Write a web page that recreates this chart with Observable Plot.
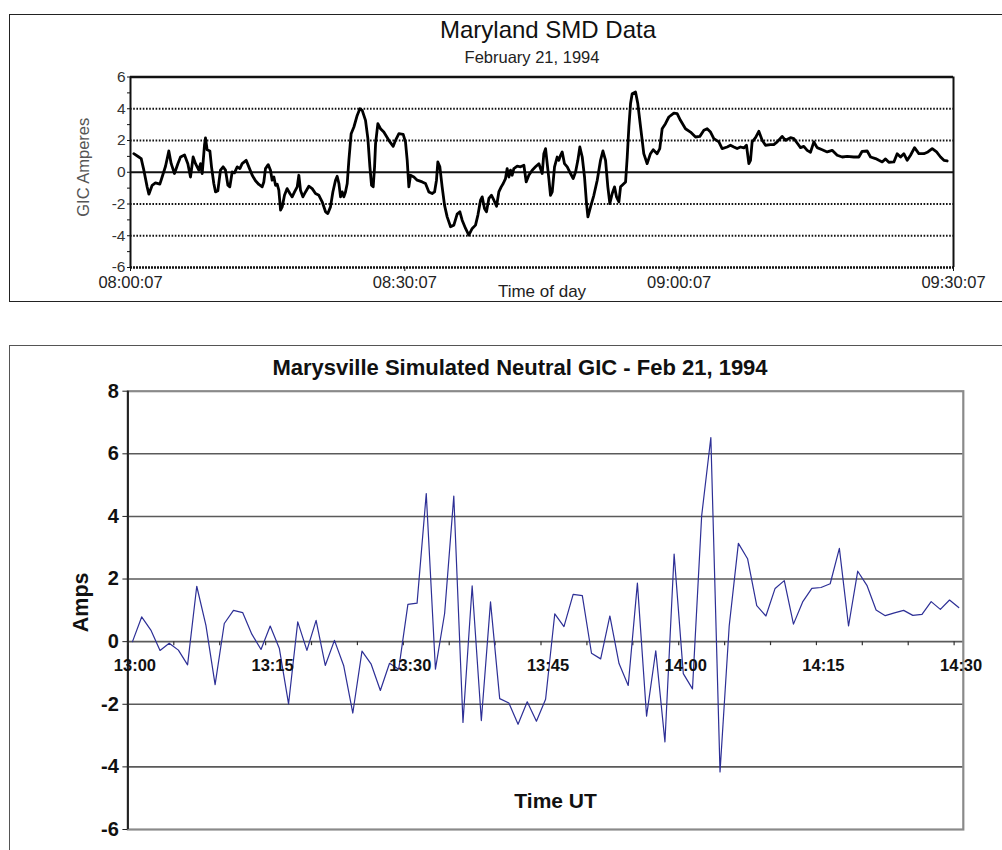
<!DOCTYPE html>
<html><head><meta charset="utf-8">
<script src="https://cdn.jsdelivr.net/npm/d3@7"></script>
<script src="https://cdn.jsdelivr.net/npm/@observablehq/plot@0.6"></script>
<style>
body{margin:0;background:#fff;}
#page{position:relative;width:1002px;height:850px;overflow:hidden;background:#fff;font-family:Arial,"Liberation Sans",sans-serif;}
.frame{position:absolute;box-sizing:border-box;}
#f1{left:9px;top:14px;width:1000px;height:288px;border:1.5px solid #222;}
#f2{left:9px;top:345px;width:1000px;height:520px;border:1.5px solid #555;}
.t{position:absolute;white-space:nowrap;transform:translateX(-50%);line-height:1;}
#p1,#p2{position:absolute;left:0;}
#p1{top:0;} #p2{top:340px;}
</style></head>
<body><div id="page">
<div class="frame" id="f1"></div>
<div class="frame" id="f2"></div>
<div class="t" id="title1" style="left:548px;top:18px;font-size:24px;color:#111;">Maryland SMD Data</div>
<div class="t" id="sub1" style="left:532px;top:49px;font-size:16.5px;color:#222;">February 21, 1994</div>
<div class="t" id="title2" style="left:520px;top:357px;font-size:22px;font-weight:bold;color:#111;">Marysville Simulated Neutral GIC - Feb 21, 1994</div>
<div id="p1"></div>
<div id="p2"></div>
</div>
<script>
// ---------- Top panel data: Maryland SMD (minutes after 08:00:07, GIC amperes)
const topStart = "1994-02-21T08:00:07Z";
const topEnd = "1994-02-21T09:30:07Z";
const topTickLabels = ["08:00:07", "08:30:07", "09:00:07", "09:30:07"];
const topYTicks = [-6, -5, -4, -3, -2, -1, 0, 1, 2, 3, 4, 5, 6];
const topMinutes = [0.36,0.91,1.17,1.46,1.82,2.01,2.37,2.73,3.21,3.46,3.83,4.19,4.45,4.81,5.18,5.47,5.91,6.27,6.56,6.85,7.11,7.47,7.66,7.84,8.09,8.2,8.38,8.68,8.86,9.11,9.3,9.55,9.84,10.13,10.39,10.65,10.86,11.12,11.37,11.67,11.96,12.21,12.65,12.94,13.31,13.67,14.04,14.4,14.58,14.76,15.06,15.31,15.49,15.68,15.86,16.04,16.22,16.41,16.59,16.84,17.13,17.43,17.68,17.94,18.23,18.41,18.59,18.85,19.14,19.5,19.87,20.23,20.6,20.96,21.33,21.58,21.87,22.13,22.42,22.6,22.79,22.97,23.15,23.33,23.51,23.7,23.88,24.13,24.43,24.79,25.08,25.34,25.7,25.96,26.18,26.36,26.54,26.69,26.8,27.05,27.34,27.7,28.25,28.73,28.98,29.35,29.82,30.07,30.26,30.44,30.62,30.99,31.35,31.9,32.26,32.63,32.99,33.25,33.46,33.61,33.83,34.08,34.34,34.63,35.0,35.36,35.72,36.02,36.27,36.64,37.0,37.37,37.73,37.99,38.28,38.46,38.71,38.93,39.19,39.48,39.74,40.03,40.28,40.54,40.76,41.01,41.19,41.38,41.56,41.74,41.92,42.29,42.65,43.02,43.27,43.56,43.93,44.29,44.66,45.02,45.2,45.39,45.57,45.75,45.93,46.12,46.37,46.66,46.84,47.03,47.21,47.46,47.76,48.12,48.41,48.67,48.92,49.14,49.4,49.65,49.87,50.02,50.31,50.67,51.04,51.4,51.66,51.95,52.2,52.42,52.68,52.93,53.15,53.41,53.59,53.77,54.14,54.32,54.5,54.68,54.86,55.23,55.48,55.78,56.13,56.5,56.86,57.16,57.59,57.88,58.14,58.5,58.87,59.42,59.78,60.14,60.69,61.24,61.79,62.26,62.7,63.06,63.43,63.79,64.34,64.7,65.25,65.61,65.98,66.34,66.71,67.07,67.36,67.62,67.8,67.98,68.35,68.71,69.08,69.44,69.99,70.35,70.72,71.26,71.63,72.18,72.54,72.9,73.27,73.63,74.0,74.36,74.73,75.09,75.64,76.19,76.73,77.28,77.83,78.37,79.1,79.65,80.01,80.56,80.93,81.47,81.84,82.2,82.57,82.93,83.48,83.84,84.21,84.57,84.94,85.3,85.74,86.21,86.76,87.2,87.67,88.15,88.58,88.95,89.31];
const topValues = [1.17,0.96,0.86,0.13,-0.92,-1.38,-0.82,-0.67,-0.75,-0.3,0.38,1.34,0.54,-0.08,0.54,0.96,1.09,0.54,-0.3,0.96,0.54,0.13,0.54,-0.08,1.7,2.16,1.42,1.34,0.34,-0.71,-1.24,-1.17,0.13,0.34,0.13,-0.82,-0.92,0.02,-0.04,0.34,0.23,0.54,0.75,0.34,-0.19,-0.54,-0.77,-0.92,-0.61,0.23,0.48,0.13,-0.5,-0.3,-0.82,-0.75,-1.13,-2.39,-2.18,-1.45,-1.03,-1.34,-1.55,-1.24,-0.92,-0.19,-1.13,-1.55,-1.24,-0.88,-1.03,-1.34,-1.45,-1.86,-2.49,-2.6,-2.18,-1.24,-0.5,-0.25,-0.71,-1.55,-1.24,-1.55,-1.24,-0.71,0.75,2.43,2.85,3.58,4.0,3.9,3.27,2.12,0.34,-0.82,-0.92,0.34,1.8,3.06,2.74,2.53,2.01,1.63,2.01,2.43,2.39,1.91,0.75,-0.92,-0.19,-0.3,-0.5,-0.61,-0.71,-1.24,-1.34,-1.24,-0.5,0.65,0.34,-0.92,-2.07,-2.81,-3.43,-3.33,-2.64,-2.49,-3.02,-3.54,-3.96,-3.54,-3.33,-2.7,-1.76,-1.55,-2.28,-2.49,-1.65,-1.45,-1.76,-2.14,-1.24,-0.92,-0.71,-0.4,0.23,-0.3,0.13,-0.19,0.23,0.38,0.34,0.44,-0.61,-0.19,0.13,0.34,0.54,-0.08,1.17,1.49,0.54,-0.4,-1.45,-1.24,0.34,0.96,0.75,1.07,1.28,0.54,0.34,-0.08,-0.4,0.02,0.75,1.59,0.96,-0.3,-1.97,-2.81,-2.18,-1.45,-0.5,0.75,1.34,0.75,-0.92,-1.97,-1.34,-0.92,-1.55,-1.86,-0.92,-0.82,-0.61,0.96,2.85,4.31,4.94,5.05,4.31,2.85,1.17,0.54,1.17,1.42,1.17,1.49,2.74,3.06,3.48,3.73,3.69,3.27,2.74,2.53,2.22,2.26,2.64,2.74,2.53,2.12,1.91,1.49,1.59,1.7,1.59,1.49,1.59,1.53,1.7,0.54,0.75,1.91,2.18,2.58,2.01,1.7,1.74,1.74,1.91,2.26,2.01,2.18,2.12,1.84,1.55,1.63,1.38,1.26,1.91,1.55,1.42,1.28,1.38,1.07,0.96,1.0,0.96,0.96,1.32,1.34,0.96,0.86,0.75,0.65,0.84,0.63,0.65,1.17,0.96,1.17,0.75,1.07,1.55,1.17,1.17,1.28,1.49,1.28,0.96,0.75,0.71];

// ---------- Bottom panel data: Marysville simulated neutral GIC (one sample per minute)
const botStart = "1994-02-21T13:00:30Z";
const botDomain = ["1994-02-21T13:00:00Z", "1994-02-21T14:31:00Z"];
const botTickLabels = ["13:00", "13:15", "13:30", "13:45", "14:00", "14:15", "14:30"];
const botYTicks = [-6, -4, -2, 0, 2, 4, 6, 8];
const botGrid = [-4, -2, 0, 2, 4, 6];
const botValues = [0.0,0.79,0.37,-0.28,-0.05,-0.27,-0.74,1.77,0.52,-1.37,0.58,1.0,0.93,0.24,-0.25,0.5,-0.22,-1.99,0.63,-0.28,0.68,-0.76,0.04,-0.76,-2.28,-0.3,-0.72,-1.56,-0.69,-0.88,1.19,1.23,4.73,-0.88,0.9,4.65,-2.58,1.78,-2.52,1.27,-1.82,-1.96,-2.64,-1.92,-2.54,-1.84,0.89,0.48,1.51,1.47,-0.37,-0.55,0.82,-0.7,-1.4,1.87,-2.38,-0.29,-3.2,2.8,-1.02,-1.51,4.02,6.52,-4.16,0.5,3.14,2.65,1.15,0.82,1.7,1.95,0.56,1.27,1.7,1.73,1.85,2.98,0.5,2.25,1.8,1.01,0.83,0.92,1.0,0.84,0.87,1.28,1.03,1.33,1.09];

const MIN = 60000;
const t0 = new Date(topStart), t1 = new Date(topEnd);
const topData = topMinutes.map((m, i) => ({t: new Date(+t0 + m * MIN), v: topValues[i]}));
const topTicks = topTickLabels.map(s => new Date(`1994-02-21T${s}Z`));
const fmtTop = d3.utcFormat("%H:%M:%S");

const b0 = new Date(botStart);
const botData = botValues.map((v, i) => ({t: new Date(+b0 + i * MIN), v}));
const bd = botDomain.map(s => new Date(s));
const botLabelTicks = botTickLabels.map(s => new Date(`1994-02-21T${s}:00Z`));
const botMinorTicks = d3.utcMinute.every(5).range(bd[0], new Date(+bd[1] + 1));
const fmtBot = d3.utcFormat("%H:%M");

const font = 'Arial, "Liberation Sans", sans-serif';

const p1 = Plot.plot({
  width: 1002, height: 300,
  marginLeft: 130, marginRight: 49, marginTop: 76.5, marginBottom: 33,
  x: {type: "utc", domain: [t0, t1], axis: null},
  y: {domain: [-6, 6], axis: null},
  style: {fontFamily: font, fontSize: "16px", color: "#222", background: "transparent", overflow: "visible"},
  marks: [
    Plot.ruleY([4, 2, -2, -4], {stroke: "#111", strokeWidth: 2, strokeDasharray: "1.6,1.6"}),
    Plot.ruleY([-6], {stroke: "#111", strokeWidth: 2.5, strokeDasharray: "2,1"}),
    Plot.ruleY([6], {stroke: "#111", strokeWidth: 2.5}),
    Plot.ruleY([0], {stroke: "#111", strokeWidth: 2}),
    Plot.ruleX([t1], {stroke: "#111", strokeWidth: 2}),
    Plot.ruleX([t0], {stroke: "#111", strokeWidth: 2}),
    Plot.line(topData, {x: "t", y: "v", stroke: "#000", strokeWidth: 2.8, strokeLinejoin: "round", strokeLinecap: "round"}),
    Plot.axisY({ticks: topYTicks, tickSize: 3, tickPadding: 2, tickFormat: d => (d % 2 === 0 ? String(d) : ""), fontSize: 15.5, label: null, stroke: "#111", fill: "#333"}),
    Plot.axisX({ticks: topTicks, tickSize: 4, tickPadding: 5, tickFormat: fmtTop, fontSize: 16.5, label: null, stroke: "#111", fill: "#222"}),
    Plot.text(["Time of day"], {frameAnchor: "bottom", dy: 29, fontSize: 17, fill: "#222"}),
    Plot.text(["GIC Amperes"], {frameAnchor: "left", textAnchor: "middle", rotate: -90, dx: -47, dy: -5, fontSize: 16.5, fill: "#555"})
  ]
});
document.getElementById("p1").appendChild(p1);

const p2 = Plot.plot({
  width: 1002, height: 510,
  marginLeft: 127.4, marginRight: 39.2, marginTop: 50.7, marginBottom: 21,
  x: {type: "utc", domain: bd, axis: null},
  y: {domain: [-6, 8], axis: null},
  style: {fontFamily: font, fontSize: "16px", color: "#111", background: "transparent", overflow: "visible"},
  marks: [
    Plot.ruleY(botGrid, {stroke: "#5a5a5a", strokeWidth: 1.6}),
    Plot.frame({stroke: "#8a8a8a", strokeWidth: 2.2}),
    Plot.ruleX([bd[0]], {stroke: "#222", strokeWidth: 2}),
    Plot.ruleX(botMinorTicks, {x: d => d, y1: 0, y2: 0, insetBottom: -4, stroke: "#333", strokeWidth: 1.2}),
    Plot.line(botData, {x: "t", y: "v", stroke: "#2d2f96", strokeWidth: 1.2}),
    Plot.text(botLabelTicks, {x: d => d, y: 0, text: fmtBot, dx: 7, dy: 24, fontSize: 16.5, fontWeight: "bold", fill: "#111"}),
    Plot.axisY({ticks: botYTicks, tickSize: 5, tickPadding: 4, tickFormat: d => String(d), fontSize: 20, fontWeight: "bold", label: null, stroke: "#222", fill: "#111"}),
    Plot.text(["Amps"], {frameAnchor: "left", textAnchor: "middle", rotate: -90, dx: -47, dy: -8, fontSize: 21.5, fontWeight: "bold", fill: "#111"}),
    Plot.text(["Time UT"], {frameAnchor: "bottom", dx: 10, dy: -22, fontSize: 21, fontWeight: "bold", fill: "#111"})
  ]
});
document.getElementById("p2").appendChild(p2);
</script>
</body></html>
